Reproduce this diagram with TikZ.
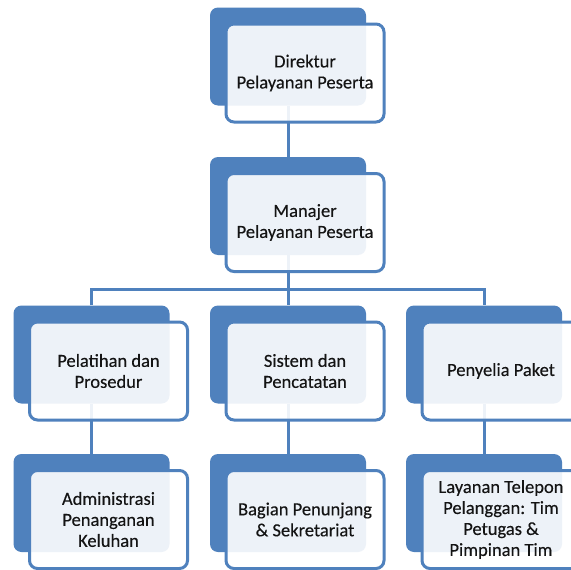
\documentclass[tikz,border=0pt]{standalone}
\usepackage{fontspec}
\setmainfont{Carlito}
\newfontfamily\labelfont{Carlito}[FakeBold=0.3]
\usetikzlibrary{calc}
\definecolor{accent}{HTML}{4F81BD}
\definecolor{ink}{HTML}{141414}
\tikzset{
  backbox/.style={fill=accent, rounded corners=8pt, minimum width=156pt,
    minimum height=98pt, inner sep=0pt},
  frontbox/.style={draw=accent, line width=3pt, fill=white, fill opacity=0.9,
    text opacity=1, rounded corners=8pt, minimum width=158pt, minimum height=98pt,
    inner sep=0pt, align=center, text=ink,
    font=\labelfont\fontsize{18.5}{21}\selectfont},
  link/.style={draw=accent, line width=3pt}
}
\begin{document}
\begin{tikzpicture}[x=1pt,y=-1pt]
  \clip (0,0) rectangle (571,570);
  \fill[white] (0,0) rectangle (571,570);

  % solid back panels
  \node[backbox] (dirB) at (288,56.5) {};
  \node[backbox] (manB) at (288,206) {};
  \node[backbox] (pelB) at (91.5,354.5) {};
  \node[backbox] (sisB) at (288,354.5) {};
  \node[backbox] (penB) at (484,354.5) {};
  \node[backbox] (admB) at (91.5,503) {};
  \node[backbox] (bagB) at (288,503) {};
  \node[backbox] (layB) at (484,503) {};

  % connectors
  \coordinate (bus) at ($(manB.south)+(0,34.5)$);
  \draw[link] (dirB.south) -- (manB.north);
  \draw[link] (manB.south) -- (bus);
  \draw[link] (pelB.north) |- (bus) -| (penB.north);
  \draw[link] (bus) -- (sisB.north);
  \draw[link] (pelB.south) -- (admB.north);
  \draw[link] (sisB.south) -- (bagB.north);
  \draw[link] (penB.south) -- (layB.north);

  % translucent front panels with labels
  \node[frontbox] (dirF) at ($(dirB)+(17,16.5)$) {Direktur\\Pelayanan Peserta};
  \node[frontbox] (manF) at ($(manB)+(17,16.5)$) {Manajer\\Pelayanan Peserta};
  \node[frontbox] (pelF) at ($(pelB)+(17,16.5)$) {Pelatihan dan\\Prosedur};
  \node[frontbox] (sisF) at ($(sisB)+(17,16.5)$) {Sistem dan\\Pencatatan};
  \node[frontbox] (penF) at ($(penB)+(17,16.5)$) {Penyelia Paket};
  \node[frontbox] (admF) at ($(admB)+(17,16.5)$) {Administrasi\\Penanganan\\Keluhan};
  \node[frontbox] (bagF) at ($(bagB)+(17,16.5)$) {Bagian Penunjang\\\& Sekretariat};
  \node[frontbox] (layF) at ($(layB)+(17,16.5)$) {Layanan Telepon\\Pelanggan: Tim\\Petugas \&\\Pimpinan Tim};
\end{tikzpicture}
\end{document}
